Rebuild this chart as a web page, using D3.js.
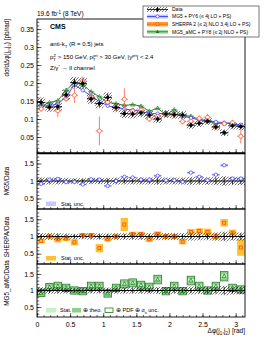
<!DOCTYPE html>
<head>
    <meta charset="utf-8"/>
    <script src="https://d3js.org/d3.v7.min.js"></script>
    <style>
        body { margin: 0; background: #fff; }
        text { font-family: "Liberation Sans", Arial, sans-serif; }
    </style>
</head>
<body>
<script>
    var width = 266,
        height = 344;

    // 25 bins in delta phi, 0 .. pi
    var nBins = 25;
    var xTicks = [0, 0.5, 1, 1.5, 2, 2.5, 3];
    var mainTicks = [0.05, 0.1, 0.15, 0.2, 0.25, 0.3, 0.35];
    var ratioTicks = [0.5, 1, 1.5];

    // main panel, pb/rad
    var dataVals = [0.146, 0.133, 0.134, 0.167, 0.201, 0.199, 0.156, 0.143, 0.160, 0.132, 0.115, 0.114, 0.117,
        0.111, 0.100, 0.114, 0.112, 0.111, 0.083, 0.088, 0.094, 0.078, 0.062, 0.081, 0.079];
    var dataErr = [0.010, 0.009, 0.009, 0.010, 0.011, 0.011, 0.010, 0.009, 0.010, 0.009, 0.008, 0.008, 0.008,
        0.008, 0.008, 0.008, 0.008, 0.008, 0.007, 0.007, 0.007, 0.007, 0.007, 0.007, 0.007];
    var dataSys = [0.014, 0.013, 0.013, 0.015, 0.016, 0.016, 0.014, 0.013, 0.014, 0.013, 0.012, 0.012, 0.012,
        0.011, 0.011, 0.011, 0.011, 0.011, 0.010, 0.010, 0.010, 0.010, 0.009, 0.010, 0.010];
    var mg5Vals = [0.135, 0.138, 0.141, 0.162, 0.195, 0.180, 0.164, 0.149, 0.137, 0.132, 0.128, 0.125, 0.122,
        0.115, 0.115, 0.116, 0.114, 0.108, 0.103, 0.098, 0.096, 0.092, 0.090, 0.087, 0.084];
    var sherpaVals = [0.128, 0.133, 0.123, 0.157, 0.166, 0.206, 0.162, 0.067, 0.147, 0.132, 0.155, 0.122, 0.125,
        0.100, 0.107, 0.114, 0.112, 0.093, 0.094, 0.102, 0.105, 0.078, 0.087, 0.090, 0.052];
    var sherpaErr = [0.008, 0.008, 0.018, 0.010, 0.021, 0.012, 0.010, 0.040, 0.009, 0.008, 0.030, 0.008, 0.008,
        0.008, 0.008, 0.008, 0.007, 0.008, 0.007, 0.008, 0.010, 0.007, 0.007, 0.008, 0.020];
    var amcVals = [0.136, 0.146, 0.151, 0.180, 0.201, 0.195, 0.176, 0.162, 0.146, 0.143, 0.138, 0.140, 0.136,
        0.122, 0.130, 0.112, 0.126, 0.109, 0.108, 0.099, 0.094, 0.088, 0.088, 0.087, 0.081];

    // ratio panels
    var dataRatioErr = [0.07, 0.07, 0.07, 0.06, 0.06, 0.06, 0.07, 0.07, 0.07, 0.07, 0.07, 0.07, 0.07,
        0.07, 0.08, 0.07, 0.07, 0.07, 0.08, 0.08, 0.08, 0.09, 0.11, 0.09, 0.09];
    var dataRatioSys = [0.10, 0.10, 0.10, 0.09, 0.08, 0.08, 0.09, 0.09, 0.09, 0.10, 0.10, 0.10, 0.10,
        0.10, 0.11, 0.10, 0.10, 0.10, 0.12, 0.11, 0.11, 0.12, 0.14, 0.12, 0.12];
    var mg5Ratio = [0.92, 1.04, 1.06, 0.97, 0.97, 0.90, 1.05, 1.04, 0.86, 1.00, 1.12, 1.10, 1.04,
        1.04, 1.15, 1.02, 1.02, 0.97, 1.24, 1.12, 1.02, 1.18, 1.45, 1.07, 1.07];
    var mg5RatioErr = [0.02, 0.02, 0.02, 0.02, 0.02, 0.02, 0.02, 0.02, 0.02, 0.02, 0.02, 0.02, 0.02,
        0.02, 0.03, 0.02, 0.02, 0.02, 0.03, 0.03, 0.03, 0.03, 0.04, 0.03, 0.03];
    var sherpaRatio = [0.87, 1.00, 0.92, 0.94, 0.83, 1.04, 1.04, 0.66, 0.92, 1.00, 1.35, 1.07, 1.07,
        0.92, 1.07, 1.00, 1.00, 0.85, 1.13, 1.16, 1.13, 1.00, 1.40, 1.11, 0.68];
    var sherpaRatioErr = [0.07, 0.06, 0.09, 0.07, 0.09, 0.06, 0.06, 0.12, 0.06, 0.06, 0.19, 0.07, 0.07,
        0.08, 0.08, 0.07, 0.07, 0.08, 0.09, 0.08, 0.10, 0.08, 0.11, 0.09, 0.24];
    var amcRatio = [0.93, 1.10, 1.13, 1.08, 1.00, 0.98, 1.13, 1.13, 0.91, 1.08, 1.20, 1.23, 1.16,
        1.10, 1.33, 0.98, 1.13, 0.98, 1.30, 1.13, 1.00, 1.13, 1.43, 1.08, 1.03];
    var amcStat = [0.03, 0.03, 0.03, 0.03, 0.03, 0.03, 0.03, 0.03, 0.03, 0.03, 0.04, 0.04, 0.04,
        0.04, 0.04, 0.04, 0.04, 0.04, 0.05, 0.05, 0.05, 0.05, 0.06, 0.05, 0.05];
    var amcTheo = [0.10, 0.10, 0.11, 0.10, 0.10, 0.10, 0.11, 0.11, 0.10, 0.10, 0.11, 0.11, 0.11,
        0.11, 0.12, 0.10, 0.11, 0.10, 0.12, 0.11, 0.10, 0.11, 0.13, 0.10, 0.10];
    var amcPdf = [0.11, 0.11, 0.12, 0.11, 0.11, 0.11, 0.12, 0.12, 0.11, 0.11, 0.12, 0.12, 0.12,
        0.12, 0.13, 0.11, 0.12, 0.11, 0.13, 0.12, 0.11, 0.12, 0.14, 0.11, 0.11];

    var legendLabels = ["Data", "MG5 + PY6 (\u2264 4j LO + PS)", "SHERPA 2 (\u2264 2j NLO 3,4j LO + PS)",
        "MG5_aMC + PY8 (\u2264 2j NLO + PS)"];

    var blue = "#3b3bff", lavender = "#c8c8ff", red = "#ff5a3c", orange = "#ffc12e",
        green = "#1f7a1f", lgreen = "#c6f0c6", mgreen = "#8ccf8c";

    var svg = d3.select("body").append("svg")
        .attr("width", width)
        .attr("height", height);

    var defs = svg.append("defs");
    defs.append("pattern")
        .attr("id", "hatch")
        .attr("patternUnits", "userSpaceOnUse")
        .attr("width", 3).attr("height", 3)
        .append("path")
        .attr("d", "M-1,1 l2,-2 M0,3 l3,-3 M2,4 l2,-2")
        .attr("stroke", "#000")
        .attr("stroke-width", 0.55);

    var left = 37, right = 245;
    var x = d3.scaleLinear().domain([0, Math.PI]).range([left, right]);
    var binW = Math.PI / nBins;
    var bins = d3.range(nBins);
    function xc(i) { return x((i + 0.5) * binW); }
    function x0(i) { return x(i * binW); }
    function x1(i) { return x((i + 1) * binW); }

    var yMain = d3.scaleLinear().domain([0.0056, 0.378]).range([153, 19]);
    var panels = [
        {top: 153, bottom: 209, title: "MG5/Data", ty: 181},
        {top: 209, bottom: 264, title: "SHERPA/Data", ty: 237},
        {top: 264, bottom: 317, title: "MG5_aMC/Data", ty: 283}
    ];
    panels.forEach(function (p) {
        p.y = d3.scaleLinear().domain([0.2, 1.8]).range([p.bottom, p.top]);
    });

    function clipFor(id, top, bottom) {
        defs.append("clipPath").attr("id", id)
            .append("rect").attr("x", left).attr("y", top)
            .attr("width", right - left).attr("height", bottom - top);
        return svg.append("g").attr("clip-path", "url(#" + id + ")");
    }

    function triangle(g, cx, cy, col) {
        g.append("path")
            .attr("d", "M" + cx + "," + (cy - 2.2) + " L" + (cx + 2) + "," + (cy + 1.4) + " L" + (cx - 2) + "," + (cy + 1.4) + "Z")
            .attr("fill", "none").attr("stroke", col).attr("stroke-width", 0.7);
    }

    // ---------------- main panel ----------------
    var gm = clipFor("clipMain", 19, 153);

    // data systematic hatch
    gm.selectAll(".sys").data(bins).join("rect")
        .attr("x", x0).attr("width", function (i) { return x1(i) - x0(i); })
        .attr("y", function (i) { return yMain(dataVals[i] + dataSys[i]); })
        .attr("height", function (i) { return yMain(dataVals[i] - dataSys[i]) - yMain(dataVals[i] + dataSys[i]); })
        .attr("fill", "url(#hatch)");

    var lineMg5 = d3.line().x(function (i) { return xc(i); }).y(function (i) { return yMain(mg5Vals[i]); });
    var lineAmc = d3.line().x(function (i) { return xc(i); }).y(function (i) { return yMain(amcVals[i]); });

    gm.append("path").attr("d", lineAmc(bins)).attr("fill", "none").attr("stroke", green).attr("stroke-width", 0.9);
    gm.append("path").attr("d", lineMg5(bins)).attr("fill", "none").attr("stroke", blue).attr("stroke-width", 0.9);

    bins.forEach(function (i) {
        gm.append("line").attr("x1", x0(i) + 1).attr("x2", x1(i) - 1)
            .attr("y1", yMain(amcVals[i])).attr("y2", yMain(amcVals[i]))
            .attr("stroke", green).attr("stroke-width", 0.6);
        triangle(gm, xc(i), yMain(amcVals[i]), green);
        gm.append("circle").attr("cx", xc(i)).attr("cy", yMain(mg5Vals[i])).attr("r", 1.7)
            .attr("fill", "#fff").attr("stroke", blue).attr("stroke-width", 0.7);
    });

    // sherpa points
    bins.forEach(function (i) {
        var cy = yMain(sherpaVals[i]);
        gm.append("line").attr("x1", xc(i)).attr("x2", xc(i))
            .attr("y1", yMain(sherpaVals[i] + sherpaErr[i])).attr("y2", yMain(sherpaVals[i] - sherpaErr[i]))
            .attr("stroke", red).attr("stroke-width", 0.8);
        gm.append("line").attr("x1", x0(i) + 0.5).attr("x2", x1(i) - 0.5).attr("y1", cy).attr("y2", cy)
            .attr("stroke", red).attr("stroke-width", 0.8);
        gm.append("circle").attr("cx", xc(i)).attr("cy", cy).attr("r", 2)
            .attr("fill", "#fff").attr("stroke", red).attr("stroke-width", 0.8);
    });

    // data points
    bins.forEach(function (i) {
        var cy = yMain(dataVals[i]);
        gm.append("line").attr("x1", xc(i)).attr("x2", xc(i))
            .attr("y1", yMain(dataVals[i] + dataErr[i])).attr("y2", yMain(dataVals[i] - dataErr[i]))
            .attr("stroke", "#000").attr("stroke-width", 0.9);
        gm.append("line").attr("x1", x0(i)).attr("x2", x1(i)).attr("y1", cy).attr("y2", cy)
            .attr("stroke", "#000").attr("stroke-width", 0.9);
        gm.append("circle").attr("cx", xc(i)).attr("cy", cy).attr("r", 1.8).attr("fill", "#000");
    });

    // ---------------- ratio panels ----------------
    panels.forEach(function (p, k) {
        var g = clipFor("clipR" + k, p.top, p.bottom);
        var y = p.y;

        if (k === 2) {
            bins.forEach(function (i) {
                var w = (x1(i) - x0(i)) * 0.9, bx = xc(i) - w / 2;
                g.append("rect").attr("x", bx).attr("width", w)
                    .attr("y", y(amcRatio[i] + amcTheo[i])).attr("height", y(amcRatio[i] - amcTheo[i]) - y(amcRatio[i] + amcTheo[i]))
                    .attr("fill", mgreen);
                g.append("rect").attr("x", bx + 0.8).attr("width", w - 1.6)
                    .attr("y", y(amcRatio[i] + amcStat[i])).attr("height", y(amcRatio[i] - amcStat[i]) - y(amcRatio[i] + amcStat[i]))
                    .attr("fill", lgreen);
                g.append("rect").attr("x", bx).attr("width", w)
                    .attr("y", y(amcRatio[i] + amcPdf[i])).attr("height", y(amcRatio[i] - amcPdf[i]) - y(amcRatio[i] + amcPdf[i]))
                    .attr("fill", "none").attr("stroke", green).attr("stroke-width", 0.8);
            });
        }
        if (k === 1) {
            bins.forEach(function (i) {
                var w = (x1(i) - x0(i)) * 0.9, bx = xc(i) - w / 2;
                g.append("rect").attr("x", bx).attr("width", w)
                    .attr("y", y(sherpaRatio[i] + sherpaRatioErr[i]))
                    .attr("height", y(sherpaRatio[i] - sherpaRatioErr[i]) - y(sherpaRatio[i] + sherpaRatioErr[i]))
                    .attr("fill", orange);
            });
        }
        if (k === 0) {
            bins.forEach(function (i) {
                var w = (x1(i) - x0(i)) * 0.9, bx = xc(i) - w / 2;
                g.append("rect").attr("x", bx).attr("width", w)
                    .attr("y", y(mg5Ratio[i] + mg5RatioErr[i]))
                    .attr("height", y(mg5Ratio[i] - mg5RatioErr[i]) - y(mg5Ratio[i] + mg5RatioErr[i]))
                    .attr("fill", lavender);
            });
        }

        // data band at 1
        g.selectAll(".rsys").data(bins).join("rect")
            .attr("x", x0).attr("width", function (i) { return x1(i) - x0(i); })
            .attr("y", function (i) { return y(1 + dataRatioSys[i]); })
            .attr("height", function (i) { return y(1 - dataRatioSys[i]) - y(1 + dataRatioSys[i]); })
            .attr("fill", "url(#hatch)");
        g.append("line").attr("x1", left).attr("x2", right).attr("y1", y(1)).attr("y2", y(1))
            .attr("stroke", "#000").attr("stroke-width", 1.1);
        bins.forEach(function (i) {
            g.append("line").attr("x1", xc(i)).attr("x2", xc(i))
                .attr("y1", y(1 + dataRatioErr[i])).attr("y2", y(1 - dataRatioErr[i]))
                .attr("stroke", "#000").attr("stroke-width", 0.8);
        });

        bins.forEach(function (i) {
            if (k === 0) {
                var cy = y(mg5Ratio[i]);
                g.append("line").attr("x1", x0(i) + 0.5).attr("x2", x1(i) - 0.5).attr("y1", cy).attr("y2", cy)
                    .attr("stroke", blue).attr("stroke-width", 0.7);
                g.append("circle").attr("cx", xc(i)).attr("cy", cy).attr("r", 1.7)
                    .attr("fill", "#fff").attr("stroke", blue).attr("stroke-width", 0.7);
            } else if (k === 1) {
                var sy = y(sherpaRatio[i]);
                g.append("rect").attr("x", xc(i) - 1.5).attr("y", sy - 1.5).attr("width", 3).attr("height", 3)
                    .attr("fill", "none").attr("stroke", "#ff4a1a").attr("stroke-width", 0.8);
            } else {
                triangle(g, xc(i), y(amcRatio[i]), green);
            }
        });
    });

    // ---------------- axes ----------------
    function fmt(d) { return String(+d.toFixed(2)); }

    var axMain = svg.append("g").attr("transform", "translate(" + left + ",0)")
        .call(d3.axisLeft(yMain).tickValues(mainTicks).tickSizeInner(-4.5).tickSizeOuter(0).tickPadding(3).tickFormat(fmt));
    svg.append("g").attr("transform", "translate(" + left + ",0)")
        .call(d3.axisLeft(yMain).tickValues(d3.range(1, 38).map(function (v) { return v / 100; }))
            .tickSizeInner(-2.3).tickSizeOuter(0).tickFormat(""));

    panels.forEach(function (p) {
        svg.append("g").attr("transform", "translate(" + left + ",0)")
            .call(d3.axisLeft(p.y).tickValues(ratioTicks).tickSizeInner(-4.5).tickSizeOuter(0).tickPadding(3).tickFormat(fmt));
        svg.append("g").attr("transform", "translate(" + left + ",0)")
            .call(d3.axisLeft(p.y).tickValues(d3.range(3, 18).map(function (v) { return v / 10; }))
                .tickSizeInner(-2.3).tickSizeOuter(0).tickFormat(""));
    });

    [153, 209, 264, 317].forEach(function (yb, k) {
        svg.append("g").attr("transform", "translate(0," + yb + ")")
            .call(d3.axisBottom(x).tickValues(xTicks).tickSizeInner(-4).tickSizeOuter(0).tickPadding(5)
                .tickFormat(k === 3 ? fmt : ""));
        svg.append("g").attr("transform", "translate(0," + yb + ")")
            .call(d3.axisBottom(x).tickValues(d3.range(1, 32).map(function (v) { return v / 10; }))
                .tickSizeInner(-2).tickSizeOuter(0).tickFormat(""));
    });

    svg.selectAll(".tick text").attr("font-size", 7).attr("fill", "#000")
        .attr("font-family", "'Liberation Sans', Arial, sans-serif");
    svg.selectAll(".domain").remove();
    svg.selectAll(".tick line").attr("stroke", "#000").attr("stroke-width", 0.6);

    // frames
    svg.append("rect").attr("x", left).attr("y", 19).attr("width", right - left).attr("height", 134)
        .attr("fill", "none").attr("stroke", "#000").attr("stroke-width", 0.9);
    panels.forEach(function (p) {
        svg.append("rect").attr("x", left).attr("y", p.top).attr("width", right - left).attr("height", p.bottom - p.top)
            .attr("fill", "none").attr("stroke", "#000").attr("stroke-width", 0.9);
    });
    svg.append("line").attr("x1", left).attr("x2", right).attr("y1", 153.5).attr("y2", 153.5)
        .attr("stroke", "#000").attr("stroke-width", 1.6);

    // ---------------- texts ----------------
    var t = svg.append("text").attr("x", 37).attr("y", 16).attr("font-size", 6.5);
    t.append("tspan").text("19.6 fb");
    t.append("tspan").attr("dy", -2.5).attr("font-size", 4.5).text("-1");
    t.append("tspan").attr("dy", 2.5).text(" (8 TeV)");

    svg.append("text").attr("x", 50).attr("y", 28.5).attr("font-size", 7).attr("font-weight", "bold").text("CMS");

    var t1 = svg.append("text").attr("x", 50).attr("y", 46).attr("font-size", 6);
    t1.append("tspan").text("anti-k");
    t1.append("tspan").attr("dy", 1.5).attr("font-size", 4.3).text("T");
    t1.append("tspan").attr("dy", -1.5).text(" (R = 0.5) jets");

    var t2 = svg.append("text").attr("x", 50).attr("y", 59).attr("font-size", 6);
    t2.append("tspan").text("p");
    t2.append("tspan").attr("dy", 1.5).attr("font-size", 4.3).text("T");
    t2.append("tspan").attr("dx", -2.4).attr("dy", -4).attr("font-size", 4.3).text("Z");
    t2.append("tspan").attr("dy", 2.5).text(" > 150 GeV, p");
    t2.append("tspan").attr("dy", 1.5).attr("font-size", 4.3).text("T");
    t2.append("tspan").attr("dx", -2.4).attr("dy", -4).attr("font-size", 4.3).text("jet");
    t2.append("tspan").attr("dy", 2.5).text(" > 30 GeV, |y");
    t2.append("tspan").attr("dy", -2.5).attr("font-size", 4.3).text("jet");
    t2.append("tspan").attr("dy", 2.5).text("| < 2.4");

    var t3 = svg.append("text").attr("x", 50).attr("y", 70).attr("font-size", 6);
    t3.append("tspan").text("Z/\u03b3");
    t3.append("tspan").attr("dy", -2.5).attr("font-size", 4.3).text("*");
    t3.append("tspan").attr("dy", 2.5).text(" \u2192 ll channel");

    // y titles
    var yt = svg.append("text").attr("transform", "translate(9,19) rotate(-90)")
        .attr("text-anchor", "end").attr("font-size", 6.3);
    yt.append("tspan").text("d\u03c3/d\u0394\u03c6(j");
    yt.append("tspan").attr("dy", 1.5).attr("font-size", 4.3).text("1");
    yt.append("tspan").attr("dy", -1.5).text(",j");
    yt.append("tspan").attr("dy", 1.5).attr("font-size", 4.3).text("2");
    yt.append("tspan").attr("dy", -1.5).text(") [pb/rad]");

    panels.forEach(function (p) {
        svg.append("text").attr("transform", "translate(9," + p.ty + ") rotate(-90)")
            .attr("text-anchor", "middle").attr("font-size", 6.3).text(p.title);
    });

    var xt = svg.append("text").attr("x", 245).attr("y", 333).attr("text-anchor", "end").attr("font-size", 6.5);
    xt.append("tspan").text("\u0394\u03c6(j");
    xt.append("tspan").attr("dy", 1.5).attr("font-size", 4.5).text("1");
    xt.append("tspan").attr("dy", -1.5).text(",j");
    xt.append("tspan").attr("dy", 1.5).attr("font-size", 4.5).text("2");
    xt.append("tspan").attr("dy", -1.5).text(") [rad]");

    // ratio legends
    svg.append("rect").attr("x", 46).attr("y", 201.5).attr("width", 10).attr("height", 4.5).attr("fill", lavender);
    svg.append("text").attr("x", 61).attr("y", 205.8).attr("font-size", 5.5).text("Stat. unc.");
    svg.append("rect").attr("x", 46).attr("y", 256).attr("width", 10).attr("height", 4.5).attr("fill", orange);
    svg.append("text").attr("x", 61).attr("y", 260.3).attr("font-size", 5.5).text("Stat. unc.");

    svg.append("rect").attr("x", 46).attr("y", 308).attr("width", 10).attr("height", 4.5).attr("fill", lgreen);
    svg.append("text").attr("x", 60).attr("y", 312.3).attr("font-size", 5.5).text("Stat.");
    svg.append("rect").attr("x", 72).attr("y", 308).attr("width", 9).attr("height", 4.5).attr("fill", mgreen);
    svg.append("text").attr("x", 83).attr("y", 312.3).attr("font-size", 5.5).text("\u2295 theo.");
    svg.append("rect").attr("x", 105).attr("y", 308).attr("width", 8).attr("height", 4.5)
        .attr("fill", "#fff").attr("stroke", green).attr("stroke-width", 0.8);
    var pl = svg.append("text").attr("x", 116).attr("y", 312.3).attr("font-size", 5.5);
    pl.append("tspan").text("\u2295 PDF \u2295 \u03b1");
    pl.append("tspan").attr("dy", 1.3).attr("font-size", 4).text("s");
    pl.append("tspan").attr("dy", -1.3).text(" unc.");

    // main legend
    var lg = svg.append("g");
    lg.append("rect").attr("x", 143).attr("y", 6).attr("width", 116).attr("height", 31)
        .attr("fill", "#fff").attr("stroke", "#555").attr("stroke-width", 0.8);
    var rowsY = [9.5, 16.5, 24.2, 31.8];
    var sx0 = 147, sx1 = 168, scx = 157.5;
    // data
    lg.append("rect").attr("x", sx0).attr("y", rowsY[0] - 2.5).attr("width", sx1 - sx0).attr("height", 5).attr("fill", "url(#hatch)");
    lg.append("line").attr("x1", sx0).attr("x2", sx1).attr("y1", rowsY[0]).attr("y2", rowsY[0]).attr("stroke", "#000").attr("stroke-width", 0.8);
    lg.append("line").attr("x1", scx).attr("x2", scx).attr("y1", rowsY[0] - 2.5).attr("y2", rowsY[0] + 2.5).attr("stroke", "#000").attr("stroke-width", 0.8);
    lg.append("circle").attr("cx", scx).attr("cy", rowsY[0]).attr("r", 1.6).attr("fill", "#000");
    // mg5
    lg.append("rect").attr("x", sx0).attr("y", rowsY[1] - 2).attr("width", sx1 - sx0).attr("height", 4).attr("fill", lavender);
    lg.append("line").attr("x1", sx0).attr("x2", sx1).attr("y1", rowsY[1]).attr("y2", rowsY[1]).attr("stroke", blue).attr("stroke-width", 0.9);
    lg.append("circle").attr("cx", scx).attr("cy", rowsY[1]).attr("r", 1.6).attr("fill", "#fff").attr("stroke", blue).attr("stroke-width", 0.7);
    // sherpa
    lg.append("rect").attr("x", sx0).attr("y", rowsY[2] - 2.2).attr("width", sx1 - sx0).attr("height", 4.4).attr("fill", "#ffa41c");
    lg.append("line").attr("x1", sx0).attr("x2", sx1).attr("y1", rowsY[2]).attr("y2", rowsY[2]).attr("stroke", red).attr("stroke-width", 0.9);
    lg.append("rect").attr("x", scx - 1.5).attr("y", rowsY[2] - 1.5).attr("width", 3).attr("height", 3)
        .attr("fill", "#ffa41c").attr("stroke", red).attr("stroke-width", 0.7);
    // amc
    lg.append("rect").attr("x", sx0).attr("y", rowsY[3] - 2).attr("width", sx1 - sx0).attr("height", 4).attr("fill", "#a6e3a6");
    lg.append("line").attr("x1", sx0).attr("x2", sx1).attr("y1", rowsY[3]).attr("y2", rowsY[3]).attr("stroke", green).attr("stroke-width", 0.9);
    lg.append("path").attr("d", "M" + scx + "," + (rowsY[3] - 2) + " L" + (scx + 1.9) + "," + (rowsY[3] + 1.3) + " L" + (scx - 1.9) + "," + (rowsY[3] + 1.3) + "Z")
        .attr("fill", green);

    lg.selectAll(".lt").data(legendLabels).join("text")
        .attr("x", 172).attr("y", function (d, i) { return rowsY[i] + 1.8; })
        .attr("font-size", 5).text(function (d) { return d; });
</script>
</body>
